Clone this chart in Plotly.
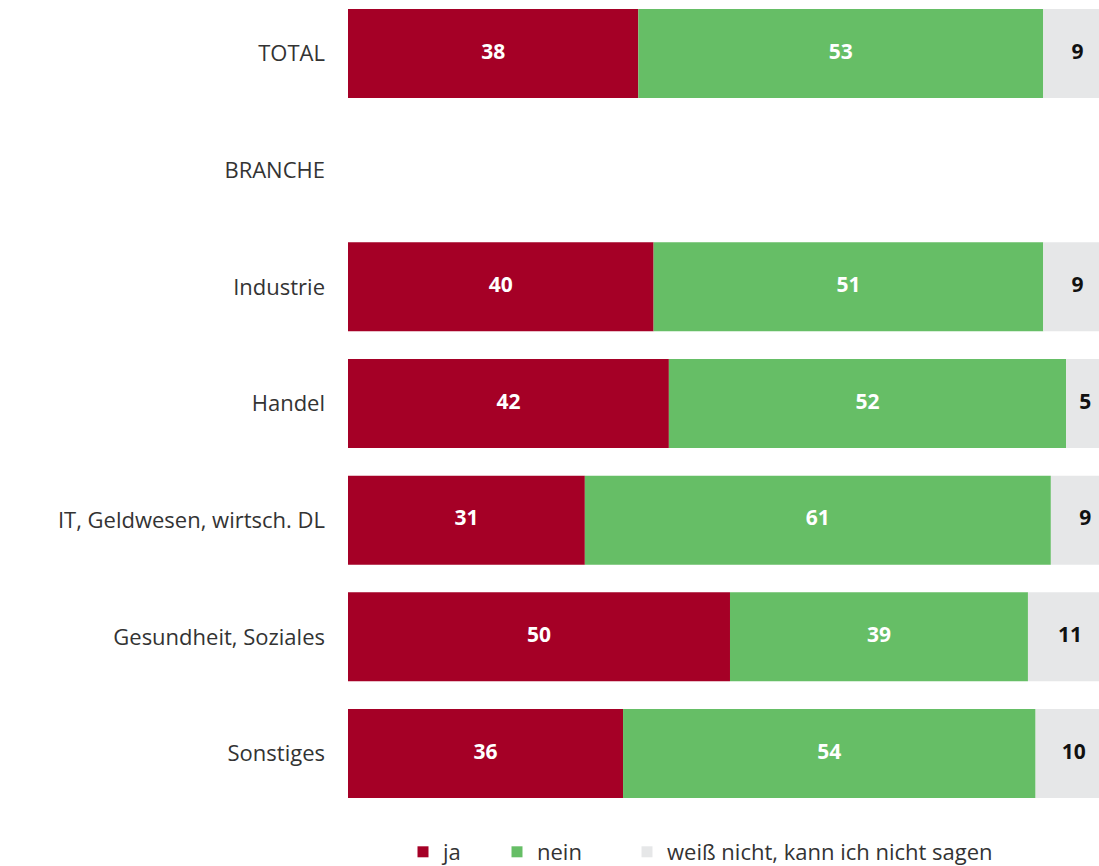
import plotly.graph_objects as go

# Survey result by sector (percent)
categories = ["TOTAL", "BRANCHE", "Industrie", "Handel", "IT, Geldwesen, wirtsch. DL",
              "Gesundheit, Soziales", "Sonstiges"]
ja = [38, None, 40, 42, 31, 50, 36]
nein = [53, None, 51, 52, 61, 39, 54]
weiss_nicht = [9, None, 9, 5, 9, 11, 10]

series = [
    ("ja", ja, "#A50026", "white"),
    ("nein", nein, "#66BE66", "white"),
    ("weiß nicht, kann ich nicht sagen", weiss_nicht, "#E6E7E8", "#111111"),
]

FONT = "Open Sans"
LEGEND_X = [403, 497, 627]  # left edge of each legend entry, px
fig = go.Figure()

base = [0 if v is not None else None for v in ja]
for i, (name, vals, color, txtcol) in enumerate(series):
    fig.add_trace(go.Bar(
        y=categories, x=vals, base=base, orientation="h", name=name,
        marker=dict(color=color, line=dict(width=0)),
        showlegend=False, hoverinfo="x+name",
    ))
    centers = [b + v / 2 if v is not None else None for b, v in zip(base, vals)]
    fig.add_trace(go.Scatter(
        y=categories, x=centers, mode="text",
        text=[str(v) if v is not None else "" for v in vals],
        textfont=dict(family=FONT, size=21, color=txtcol, weight="bold"),
        cliponaxis=False, showlegend=False, hoverinfo="skip",
    ))
    # legend entry as a small square, each in its own legend box
    lg = "legend" if i == 0 else f"legend{i + 1}"
    fig.add_trace(go.Scatter(
        x=[None], y=[None], mode="markers", name=name, legend=lg,
        marker=dict(symbol="square", size=11, color=color),
    ))
    fig.update_layout({lg: dict(
        orientation="h", xref="container", yref="container",
        x=LEGEND_X[i] / 1099, xanchor="left", y=1 - 852 / 866, yanchor="middle",
        font=dict(family=FONT, size=22, color="#333333"),
        itemwidth=30, itemclick=False, bgcolor="rgba(0,0,0,0)",
    )})
    base = [b + v if v is not None else None for b, v in zip(base, vals)]

fig.update_layout(
    width=1099, height=866,
    margin=dict(l=348, r=0, t=0, b=56, autoexpand=False),
    paper_bgcolor="white", plot_bgcolor="white",
    barmode="overlay", bargap=0.237,
    font=dict(family=FONT, size=22, color="#333333"),
    xaxis=dict(range=[0, 98.3], visible=False, fixedrange=True),
    yaxis=dict(range=[6.484, -0.4586], showgrid=False, zeroline=False,
               showline=False, ticks="", ticklabelstandoff=22, automargin=False,
               tickfont=dict(family=FONT, size=22, color="#333333")),
)

fig.write_html("out.html")
